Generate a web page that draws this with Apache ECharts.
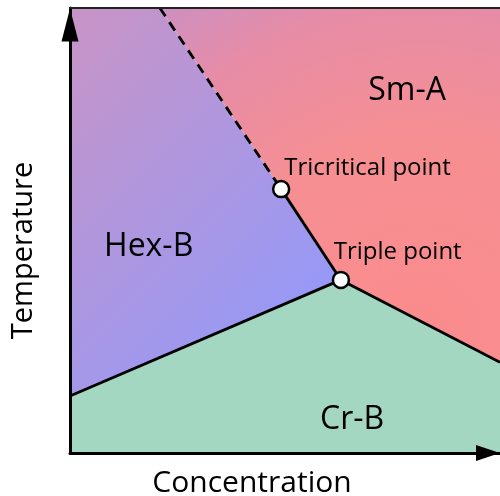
<!DOCTYPE html>
<html>
<head>
<meta charset="utf-8">
<script src="https://cdn.jsdelivr.net/npm/echarts@6/dist/echarts.min.js"></script>
<style>
  html, body { margin: 0; padding: 0; background: #fff; }
  #chart { width: 500px; height: 496px; }
</style>
</head>
<body>
<div id="chart"></div>
<script>
// phase boundaries, in axis units (0..100 on both axes)
const tricritical = [49.1, 59.3];
const triple = [63.0, 38.9];
const dashTop = [20.9, 100];
const hexCrLeft = [0, 12.8];
const crSmRight = [100, 20.4];

const hexB = [[0, 100], dashTop, tricritical, triple, hexCrLeft];
const smA = [dashTop, [100, 100], crSmRight, triple, tricritical];
const crB = [[0, 0], hexCrLeft, triple, crSmRight, [100, 0]];

const dashedLine = [dashTop, tricritical];
const solidLines = [[tricritical, triple], [hexCrLeft, triple], [triple, crSmRight]];

const regionNames = ['Sm-A', 'Hex-B', 'Cr-B'];
const regionAt = [[78.4, 82.2], [18.3, 47.3], [65.6, 8.3]];
const pointNames = ['Tricritical point', 'Triple point'];
const pointLabelAt = [[69.2, 64.9], [76.2, 46.1]];

const FONT = '"Open Sans", "Noto Sans", sans-serif';

const chart = echarts.init(document.getElementById('chart'));

function region(pts, fill) {
  return {
    type: 'custom',
    silent: true,
    z: 1,
    clip: true,
    data: [0],
    renderItem: (params, api) => {
      const p = pts.map(v => api.coord(v));
      return {
        type: 'polygon',
        shape: { points: p },
        style: { fill: fill(api), stroke: null }
      };
    }
  };
}

function boundary(pts, type) {
  return {
    type: 'line',
    data: pts,
    symbol: 'none',
    silent: true,
    z: 3,
    lineStyle: { color: '#000', width: 2.8, type: type, cap: 'butt' }
  };
}

function labels(names, at, size) {
  return {
    type: 'scatter',
    silent: true,
    z: 5,
    symbolSize: 0,
    itemStyle: { opacity: 1 },
    data: names.map((n, i) => ({ name: n, value: at[i] })),
    label: {
      show: true,
      position: 'inside',
      offset: [0, 4],
      formatter: '{b}',
      fontFamily: FONT,
      fontSize: size,
      color: '#000'
    }
  };
}

let option = {
  animation: false,
  backgroundColor: '#fff',
  grid: { left: 70, right: 0, top: 8, bottom: 43, outerBoundsMode: 'none', containLabel: false },
  xAxis: [
    {
      type: 'value',
      min: 0,
      max: 100,
      z: 10,
      name: 'Concentration',
      nameLocation: 'middle',
      nameGap: 15,
      nameTextStyle: {
        fontFamily: FONT, fontSize: 30, color: '#000',
        verticalAlign: 'top', padding: [0, 66, 0, 0]
      },
      axisLine: {
        show: true,
        onZero: false,
        symbol: ['none', 'triangle'],
        symbolSize: [16, 24],
        symbolOffset: [0, -12],
        lineStyle: { color: '#000', width: 3 }
      },
      axisTick: { show: false },
      axisLabel: { show: false },
      splitLine: { show: false }
    },
    {
      type: 'value',
      position: 'top',
      min: 0,
      max: 100,
      z: 10,
      axisLine: { show: true, onZero: false, lineStyle: { color: '#222', width: 2 } },
      axisTick: { show: false },
      axisLabel: { show: false },
      splitLine: { show: false }
    }
  ],
  yAxis: {
    type: 'value',
    min: 0,
    max: 100,
    z: 10,
    name: 'Temperature',
    nameLocation: 'middle',
    nameGap: 32,
    nameRotate: 90,
    nameTextStyle: { fontFamily: FONT, fontSize: 29, color: '#000', padding: [0, 40, 0, 0] },
    axisLine: {
      show: true,
      onZero: false,
      symbol: ['none', 'triangle'],
      symbolSize: [17, 33],
      symbolOffset: [0, -17],
      lineStyle: { color: '#000', width: 3 }
    },
    axisTick: { show: false },
    axisLabel: { show: false },
    splitLine: { show: false }
  },
  series: [
    region(hexB, api => {
      const a = api.coord([0, 100]);
      const b = api.coord(triple);
      return new echarts.graphic.LinearGradient(a[0], a[1], b[0], b[1], [
        { offset: 0, color: '#c994c5' },
        { offset: 1, color: '#9699f7' }
      ], true);
    }),
    region(smA, api => {
      const c = api.coord([81.4, 27.4]);
      return new echarts.graphic.RadialGradient(c[0], c[1], 420, [
        { offset: 0, color: '#fb8b8d' },
        { offset: 0.45, color: '#f68f92' },
        { offset: 0.77, color: '#e78ca6' },
        { offset: 1, color: '#cb90c3' }
      ], true);
    }),
    region(crB, () => '#a3d7c1'),
    boundary(dashedLine, [10, 7]),
    ...solidLines.map(l => boundary(l, 'solid')),
    {
      type: 'scatter',
      data: [tricritical, triple],
      symbolSize: 16,
      silent: true,
      z: 4,
      itemStyle: { color: '#fff', borderColor: '#000', borderWidth: 2.5, opacity: 1 }
    },
    labels(regionNames, regionAt, 32),
    labels(pointNames, pointLabelAt, 24)
  ]
};

chart.setOption(option);
</script>
</body>
</html>
